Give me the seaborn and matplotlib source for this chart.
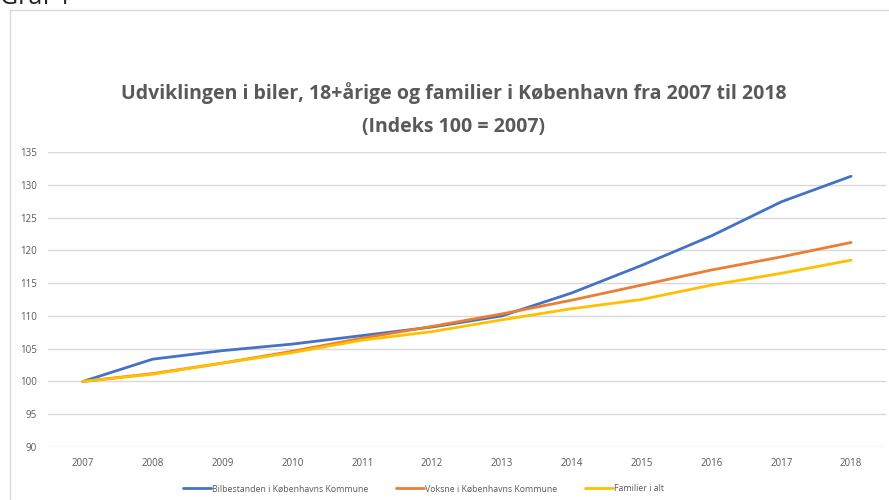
import numpy as np
import pandas as pd
import matplotlib
matplotlib.use("Agg")
import matplotlib.pyplot as plt
from matplotlib.patches import Rectangle
import seaborn as sns

# -------------------------
# DATA (index 100 = 2007)
# -------------------------
years = [str(y) for y in range(2007, 2019)]
biler = [100, 103.4, 104.7, 105.7, 107.0, 108.3, 110.0, 113.5, 117.7, 122.2, 127.4, 131.3]
voksne = [100, 101.2, 102.8, 104.6, 106.6, 108.4, 110.3, 112.4, 114.7, 117.0, 119.0, 121.2]
familier = [100, 101.1, 102.8, 104.4, 106.3, 107.6, 109.4, 111.1, 112.5, 114.7, 116.5, 118.5]

series_names = ["Bilbestanden i Københavns Kommune",
                "Voksne i Københavns Kommune",
                "Familier i alt"]
colors = ["#4472C4", "#ED7D31", "#FFC000"]

df = pd.DataFrame({"year": years * 3,
                   "value": biler + voksne + familier,
                   "serie": np.repeat(series_names, len(years))})

# -------------------------
# PLOT
# -------------------------
sns.set_theme(style="white")
plt.rcParams["font.family"] = ["Open Sans", "DejaVu Sans"]
grey = "#595959"

fig = plt.figure(figsize=(8.89, 5), dpi=100)
ax = fig.add_axes([48 / 889, 1 - 447 / 500, 838 / 889, 295 / 500])

sns.lineplot(data=df, x="year", y="value", hue="serie", palette=colors,
             linewidth=2, ax=ax, sort=False)

ax.set_ylim(90, 135)
ax.set_yticks(range(90, 136, 5))
ax.set_xlim(-0.5, len(years) - 0.5)
ax.yaxis.grid(True, color="#d9d9d9", linewidth=1)
ax.set_axisbelow(True)
for s in ax.spines.values():
    s.set_visible(False)
ax.tick_params(axis="both", labelsize=7, colors=grey, length=0, pad=8)
ax.set_xlabel("")
ax.set_ylabel("")

ax.legend(loc="upper center", bbox_to_anchor=(0.448, -0.1), ncol=3,
          frameon=False, fontsize=6.3, handlelength=3.2, handletextpad=0.1,
          columnspacing=3.2, labelcolor=grey)

fig.text(0.51, 1 - 93 / 500, "Udviklingen i biler, 18+årige og familier i København fra 2007 til 2018",
         ha="center", va="center", fontsize=14, fontweight="bold", color=grey)
fig.text(0.51, 1 - 127 / 500, "(Indeks 100 = 2007)",
         ha="center", va="center", fontsize=14, fontweight="bold", color=grey)

# cropped caption and outer border
fig.text(0.0, 1.0 + 2 / 500, "Graf 1", ha="left", va="center", fontsize=18, color="#222222")
fig.patches.append(Rectangle((10 / 889, -0.1), 1.0, 1 - 10 / 500 + 0.1,
                             transform=fig.transFigure, fill=False,
                             edgecolor="#d9d9d9", linewidth=1))

plt.savefig("out.png", dpi=100)
plt.close()
